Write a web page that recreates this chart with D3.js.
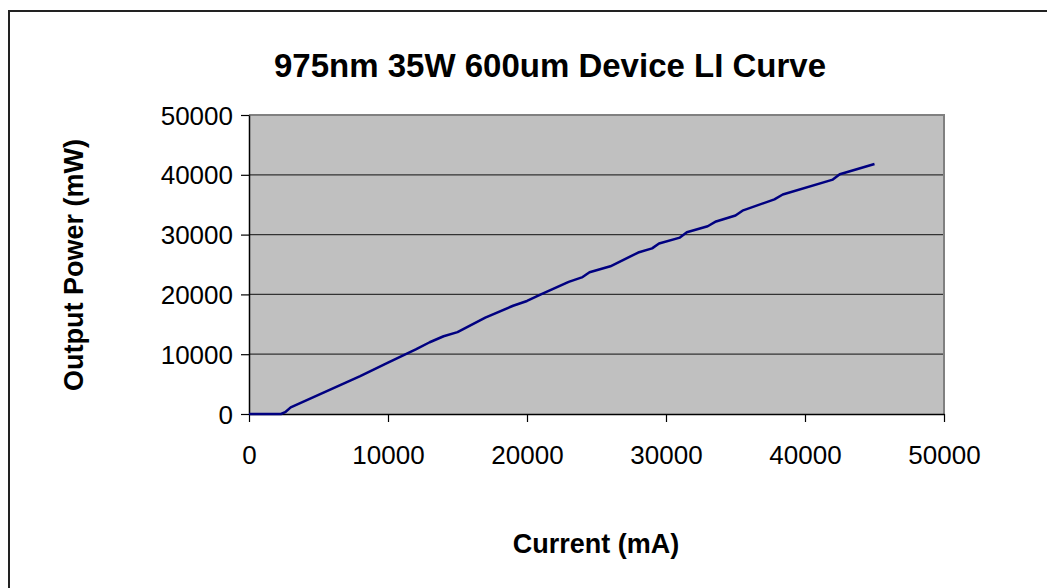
<!DOCTYPE html>
<html>
<head>
<meta charset="utf-8">
<script src="https://cdn.jsdelivr.net/npm/d3@7/dist/d3.min.js"></script>
<style>
  html, body { margin: 0; padding: 0; background: #fff; }
  svg { display: block; }
  text { font-family: "Liberation Sans", Arial, sans-serif; fill: #000; }
</style>
</head>
<body>
<svg id="chart" width="1047" height="588"></svg>
<script>
// Data
const currentMA = [0, 2300, 2600, 3000, 5000, 7000, 8000, 10000, 12000, 13000, 14000, 15000, 17000, 19000, 20000, 21000, 23000, 24000, 24500, 26000, 28000, 29000, 29500, 31000, 31500, 33000, 33600, 35000, 35500, 37800, 38400, 42000, 42500, 45000];
const powerMW  = [0, 0, 300, 1100, 3200, 5300, 6350, 8600, 10800, 12000, 13000, 13700, 16100, 18100, 18900, 20000, 22100, 22900, 23700, 24700, 27000, 27700, 28500, 29500, 30400, 31400, 32200, 33200, 34000, 35900, 36700, 39200, 40100, 41800];
const xTicks = [0, 10000, 20000, 30000, 40000, 50000];
const yTicks = [0, 10000, 20000, 30000, 40000, 50000];
const titleText = "975nm 35W 600um Device LI Curve";
const xLabel = "Current (mA)";
const yLabel = "Output Power (mW)";

const svg = d3.select("#chart");
const L = 249, R = 944, T = 115, B = 414;

// outer chart border
svg.append("rect").attr("x", 9).attr("y", 11).attr("width", 1100).attr("height", 700)
  .attr("fill", "#fff").attr("stroke", "#222").attr("stroke-width", 2);

const x = d3.scaleLinear().domain([0, 50000]).range([L, R]);
const y = d3.scaleLinear().domain([0, 50000]).range([B, T]);

// plot area
svg.append("rect").attr("x", L).attr("y", T).attr("width", R - L).attr("height", B - T)
  .attr("fill", "#c0c0c0");

// gridlines
svg.append("g").selectAll("line").data(yTicks.filter(d => d > 0 && d < 50000)).join("line")
  .attr("x1", L).attr("x2", R).attr("y1", d => y(d)).attr("y2", d => y(d))
  .attr("stroke", "#333").attr("stroke-width", 1.2);

// top and right frame (gray)
svg.append("line").attr("x1", L).attr("x2", R + 1).attr("y1", T).attr("y2", T)
  .attr("stroke", "#808080").attr("stroke-width", 2);
svg.append("line").attr("x1", R).attr("x2", R).attr("y1", T).attr("y2", B)
  .attr("stroke", "#808080").attr("stroke-width", 2);

// axes
const xAxis = d3.axisBottom(x).tickValues(xTicks).tickSize(8).tickSizeOuter(0).tickPadding(24).tickFormat(d3.format("d"));
const yAxis = d3.axisLeft(y).tickValues(yTicks).tickSize(8).tickSizeOuter(0).tickPadding(8).tickFormat(d3.format("d"));

const gx = svg.append("g").attr("transform", `translate(0,${B})`).call(xAxis);
const gy = svg.append("g").attr("transform", `translate(${L},0)`).call(yAxis);
[gx, gy].forEach(g => {
  g.select(".domain").attr("stroke", "#000").attr("stroke-width", 1.5);
  g.selectAll(".tick line").attr("stroke", "#000").attr("stroke-width", 1.2);
  g.selectAll(".tick text").attr("font-size", 26).attr("font-family", "Liberation Sans, Arial, sans-serif").attr("fill", "#000");
});
gy.selectAll(".tick text").attr("dy", "0.35em");

// line
const line = d3.line().x((d, i) => x(currentMA[i])).y(d => y(d));
svg.append("path").datum(powerMW).attr("d", line)
  .attr("fill", "none").attr("stroke", "#000080").attr("stroke-width", 2.5)
  .attr("stroke-linejoin", "round");

// titles
svg.append("text").attr("x", 550).attr("y", 77).attr("text-anchor", "middle")
  .attr("font-size", 33).attr("font-weight", "bold").text(titleText);
svg.append("text").attr("x", 596).attr("y", 553).attr("text-anchor", "middle")
  .attr("font-size", 27).attr("font-weight", "bold").text(xLabel);
svg.append("text").attr("transform", "translate(83,265) rotate(-90)").attr("text-anchor", "middle")
  .attr("font-size", 27).attr("font-weight", "bold").text(yLabel);
</script>
</body>
</html>
